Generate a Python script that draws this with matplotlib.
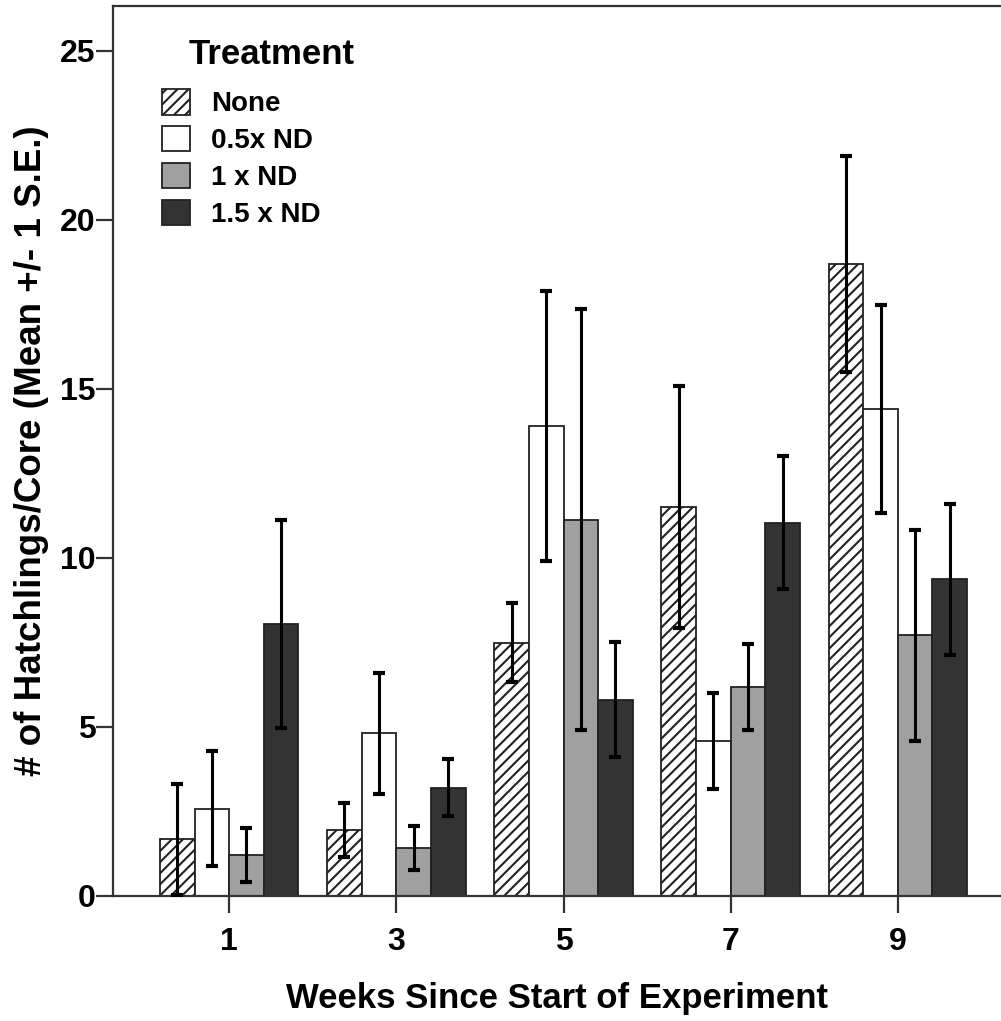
import matplotlib
matplotlib.use("Agg")
import matplotlib.pyplot as plt
import numpy as np
from matplotlib.patches import Patch

plt.rcParams['font.family'] = ['Liberation Sans', 'DejaVu Sans']
plt.rcParams['hatch.linewidth'] = 1.5

weeks = ["1", "3", "5", "7", "9"]
treatments = ["None", "0.5x ND", "1 x ND", "1.5 x ND"]

mean_none = [1.66, 1.94, 7.48, 11.49, 18.69]
mean_half = [2.57, 4.80, 13.89, 4.58, 14.40]
mean_one = [1.20, 1.40, 11.13, 6.18, 7.70]
mean_onehalf = [8.04, 3.19, 5.79, 11.04, 9.36]

se_none = [1.64, 0.79, 1.17, 3.58, 3.20]
se_half = [1.70, 1.80, 4.00, 1.42, 3.07]
se_one = [0.79, 0.65, 6.23, 1.27, 3.12]
se_onehalf = [3.08, 0.84, 1.70, 1.96, 2.23]

means = [mean_none, mean_half, mean_one, mean_onehalf]
ses = [se_none, se_half, se_one, se_onehalf]
fills = ["white", "white", "#a0a0a0", "#333333"]
hatches = ["///", None, None, None]

fig = plt.figure(figsize=(10.01, 10.21), dpi=100)
ax = fig.add_axes([0.1129, 0.1229, 0.8871, 0.8712])

x = np.arange(len(weeks))
w = 0.207
for i in range(4):
    pos = x + (i - 1.5) * w
    ax.bar(pos, means[i], width=w, color=fills[i], edgecolor="#222222",
           linewidth=1.3, hatch=hatches[i], zorder=2)
    ax.errorbar(pos, means[i], yerr=ses[i], fmt="none", ecolor="black",
                elinewidth=2.2, capsize=4, capthick=3, zorder=3)

ax.set_xlim(-0.695, 4.617)
ax.set_ylim(0, 26.33)
ax.set_yticks([0, 5, 10, 15, 20, 25])
ax.set_xticks(x)
ax.set_xticklabels(weeks)

for s in ["left", "top", "bottom"]:
    ax.spines[s].set_linewidth(1.6)
    ax.spines[s].set_color("#333333")
ax.spines["right"].set_visible(False)

ax.tick_params(axis="both", direction="out", length=12, width=1.6, color="#333333",
               labelsize=23)
ax.tick_params(axis="y", pad=0.5)
ax.tick_params(axis="x", pad=11)
for lab in ax.get_xticklabels() + ax.get_yticklabels():
    lab.set_fontweight("bold")

ax.set_xlabel("Weeks Since Start of Experiment", fontsize=25, fontweight="bold", labelpad=18)
ax.set_ylabel("# of Hatchlings/Core (Mean +/- 1 S.E.)", fontsize=26.5, fontweight="bold", labelpad=8)

handles = [Patch(facecolor=fills[i], edgecolor="#222222", hatch=hatches[i], linewidth=1.3)
           for i in range(4)]
leg = ax.legend(handles, treatments, loc="upper left",
                bbox_to_anchor=(0.055, 0.907), frameon=False, fontsize=20,
                handlelength=1.0, handleheight=1.05, handletextpad=0.78,
                labelspacing=0.31, borderpad=0.0, borderaxespad=0.0)
for t in leg.get_texts():
    t.set_fontweight("bold")
ax.text(0.0855, 0.946, "Treatment", transform=ax.transAxes, fontsize=25,
        fontweight="bold", ha="left", va="center")

fig.savefig("out.png", dpi=100)
